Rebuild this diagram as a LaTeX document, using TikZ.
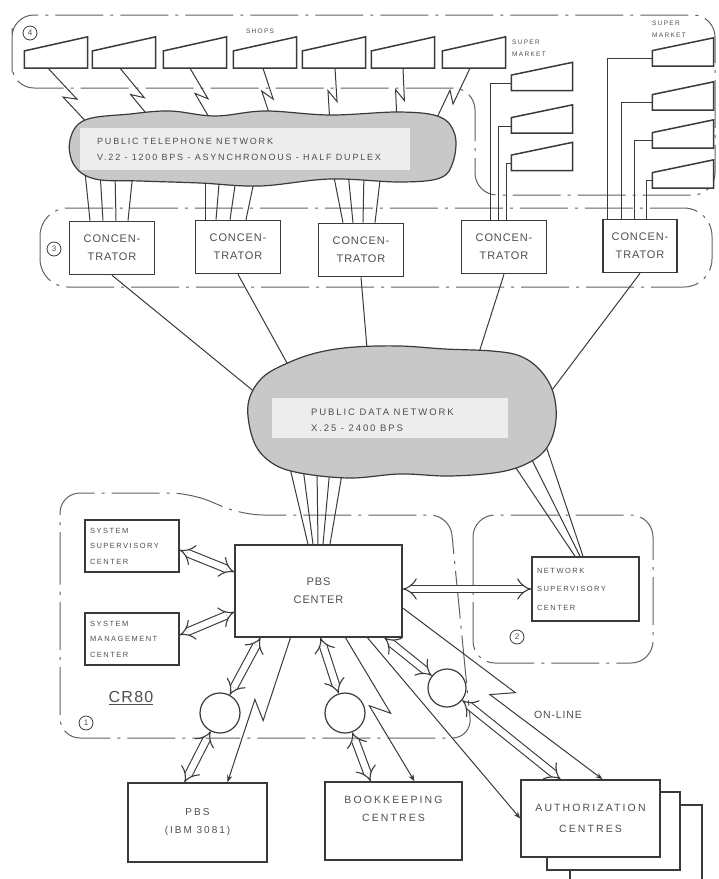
\documentclass[tikz,border=0pt]{standalone}
\usepackage{fontspec}
\setmainfont[LetterSpace=8]{Liberation Sans}
\newfontfamily\spacedsans[LetterSpace=20]{Liberation Sans}
\usetikzlibrary{positioning}
\usetikzlibrary{arrows.meta}
\usetikzlibrary{calc}

\definecolor{ink}{HTML}{3A3A3A}
\definecolor{inktext}{HTML}{4E4E4E}
\definecolor{cloudfill}{HTML}{C8C8C8}
\definecolor{cloudlabel}{HTML}{EDEDED}

\tikzset{
  wire/.style={draw=ink, line width=1pt},
  region/.style={draw=ink!80, line width=1pt, dash pattern=on 48pt off 7pt on 3pt off 7pt},
  term/.style={minimum width=63, minimum height=31, inner sep=0pt},
  mkt/.style={minimum width=61, minimum height=28, inner sep=0pt},
  conc/.style={draw=ink, line width=1.6pt, fill=white, minimum width=85, minimum height=53,
    align=center, text=inktext, font=\fontsize{11}{18}\selectfont},
  sysbox/.style={draw=ink, line width=1.5pt, fill=white, minimum width=94, minimum height=52,
    text width=84, align=left, text=inktext, font=\spacedsans\fontsize{7.5}{15.5}\selectfont},
  bigbox/.style={draw=ink, line width=1.5pt, fill=white, align=center, text=inktext},
  modem/.style={circle, draw=ink, line width=1.2pt, fill=white, minimum size=40, inner sep=0pt},
  regnum/.style={circle, draw=ink, line width=0.8pt, inner sep=0pt, minimum size=14,
    text=inktext, font=\fontsize{8}{8}\selectfont},
  tag/.style={text=inktext, inner sep=1pt, font=\spacedsans\fontsize{6.5}{12}\selectfont},
  cloudtext/.style={text=inktext, align=left, inner sep=0pt, font=\spacedsans\fontsize{9}{15.5}\selectfont},
  dbl/.style={draw=ink, line width=1.1pt, double=white, double distance=6.5pt, {Implies}-{Implies}},
  zap/.style={to path={-- ($(\tikztostart)!.5!(\tikztotarget)!#1!(\tikztotarget)!#1!90:(\tikztotarget)$)
    -- ($(\tikztostart)!.5!(\tikztotarget)!-#1!(\tikztotarget)!#1!-90:(\tikztotarget)$)
    -- (\tikztotarget) \tikztonodes}},
  zap/.default=5pt,
}

\begin{document}
\begin{tikzpicture}[x=1pt, y=-1pt]
  % canvas
  \fill[white] (0,0) rectangle (719,879);
  \useasboundingbox (0,0) rectangle (719,879);

  % Regions (dash-dot outlines)
  \draw[region, rounded corners=22pt] (12,50) -- (12,15) -- (715,15) -- (715,195) -- (475,195)
    -- (475,88) -- (12,88) -- cycle;
  \draw[region, rounded corners=28pt] (40,208) rectangle (712,287);
  \draw[region, rounded corners=20pt] (60,600) -- (60,493) -- (190,493) -- (243,515) -- (450,515)
    -- (472,738) -- (60,738) -- cycle;
  \draw[region, rounded corners=22pt] (473,515) rectangle (653,663);
  \node[regnum] (r4) at (30,33) {4};
  \node[regnum] (r3) at (54,249) {3};
  \node[regnum] (r1) at (86,723) {1};
  \node[regnum] (r2) at (517,637) {2};

  % Shops and super markets
  \foreach \x [count=\i] in {56,124,195,265,334,403,474}
    \node[term] (s\i) at (\x,52.5) {};
  \node[tag] (shops) at (260,31) {SHOPS};
  \foreach \y [count=\i] in {76.5,119,156.5}
    \node[mkt] (m\i) at (542,\y) {};
  \node[tag, align=left, anchor=west] (mkt1) at (511,48) {SUPER\\MARKET};
  \foreach \y [count=\i] in {52,96,134,174}
    \node[mkt] (n\i) at (683,\y) {};
  \node[tag, align=left, anchor=west] (mkt2) at (651,29) {SUPER\\MARKET};
  \foreach \t in {s1,s2,s3,s4,s5,s6,s7,m1,m2,m3,n1,n2,n3,n4}
    \draw[draw=ink, line width=1.5pt, fill=white] (\t.south west) -- ($(\t.south west)!0.55!(\t.north west)$)
      -- (\t.north east) -- (\t.south east) -- cycle;

  % Concentrators
  \node[conc] (c1) at (112,248) {CONCEN-\\TRATOR};
  \node[conc] (c2) at (238,247) {CONCEN-\\TRATOR};
  \node[conc] (c3) at (361,250) {CONCEN-\\TRATOR};
  \node[conc] (c4) at (504,247) {CONCEN-\\TRATOR};
  \node[conc, minimum width=74] (c5) at (640,246) {CONCEN-\\TRATOR};

  % CR80 centre
  \node[sysbox] (ssc) at (132,546) {SYSTEM\\SUPERVISORY\\CENTER};
  \node[sysbox] (smc) at (132,639) {SYSTEM\\MANAGEMENT\\CENTER};
  \node[bigbox, minimum width=167, minimum height=92, font=\fontsize{11}{18}\selectfont]
    (pbsc) at (318.5,591) {PBS\\CENTER};
  \node[sysbox, minimum width=107, minimum height=64, text width=97,
    font=\spacedsans\fontsize{7.5}{18.5}\selectfont] (nsc) at (585.5,589) {NETWORK\\SUPERVISORY\\CENTER};
  \node[font=\fontsize{16}{16}\selectfont, text=inktext] (cr) at (131,698) {\underline{CR80}};

  % Modems
  \node[modem] (ma) at (220,713) {};
  \node[modem] (mb) at (345,713) {};
  \node[modem, minimum size=38] (mc) at (447,688) {};

  % Host and centres
  \node[bigbox, minimum width=139, minimum height=79, font=\spacedsans\fontsize{10}{18}\selectfont]
    (pbs) at (197.5,822.5) {PBS\\(IBM 3081)};
  \node[bigbox, minimum width=137, minimum height=78] (bk) at (393.5,821) {};
  \node[text=inktext, align=center, font=\spacedsans\fontsize{10.5}{18}\selectfont]
    (bktxt) at (393.5,809) {BOOKKEEPING\\CENTRES};
  \draw[draw=ink, line width=1.5pt] (570,879) |- (702,805) -- (702,879);
  \filldraw[draw=ink, line width=1.5pt, fill=white] (547,792) rectangle (680,870);
  \node[bigbox, minimum width=139, minimum height=77, font=\spacedsans\fontsize{10.5}{21}\selectfont]
    (auth) at (590.5,818.5) {AUTHORIZATION\\CENTRES};

  % Shops to telephone network
  \foreach \i/\dx/\tx/\ty in {1/-8/92/128, 2/-4/155/124, 3/-5/213/124, 4/-2/272/122,
                              5/1/330/124, 6/0/397/122, 7/-4/433/126} {
    \coordinate (sp\i) at ([xshift=\dx pt]s\i.south);
    \coordinate (tp\i) at (\tx,\ty);
    \draw[wire] (sp\i) to[zap] (tp\i);
  }

  % Super markets to concentrators
  \foreach \m/\x in {m1/490, m2/498, m3/506}
    \draw[wire] (c4.north -| \x,0) |- ([yshift=7pt]\m.south west);
  \foreach \n/\x in {n1/607, n2/621, n3/634, n4/646}
    \draw[wire] (c5.north -| \x,0) |- ([yshift=8pt]\n.south west);

  % Telephone network to concentrators
  \foreach \a/\b in {85/90, 100/103, 115/116, 133/128} {
    \coordinate (ta\a) at (\a,172);
    \draw[wire] (ta\a) -- (c1.north -| \b,0);
  }
  \foreach \a/\b in {205/205, 220/216, 237/230, 256/246} {
    \coordinate (ta\a) at (\a,172);
    \draw[wire] (ta\a) -- (c2.north -| \b,0);
  }
  \foreach \a/\b in {333/343, 348/353, 364/363, 381/375} {
    \coordinate (ta\a) at (\a,172);
    \draw[wire] (ta\a) -- (c3.north -| \b,0);
  }

  % Concentrators to data network
  \foreach \c/\x/\y in {c1/262/398, c2/292/372, c3/368/360, c4/476/362, c5/546/398} {
    \coordinate (d\c) at (\x,\y);
    \draw[wire] (\c.south) -- (d\c);
  }

  % Data network to PBS center and network supervisory center
  \foreach \a/\b in {290/308, 303/313, 317/318, 330/323, 343/330} {
    \coordinate (dp\a) at (\a,468);
    \draw[wire] (dp\a) -- (pbsc.north -| \b,0);
  }
  \foreach \a/\y/\b in {512/462/575, 530/456/580, 546/446/583} {
    \coordinate (dn\a) at (\a,\y);
    \draw[wire] (dn\a) -- (nsc.north -| \b,0);
  }

  % Public telephone network
  \filldraw[fill=cloudfill, draw=ink, line width=1.2pt] plot[smooth cycle, tension=0.6] coordinates {
    (70,140) (85,120) (130,114) (170,111) (215,116) (265,111) (330,115) (400,112) (440,117)
    (455,135) (453,162) (440,178) (400,182) (330,179) (260,186) (200,183) (140,181) (95,179) (74,165)};
  \fill[cloudlabel] (80,128) rectangle (410,170);
  \node[cloudtext, anchor=west] (ptn) at (97,149.5)
    {PUBLIC TELEPHONE NETWORK\\V.22 - 1200 BPS - ASYNCHRONOUS - HALF DUPLEX};

  % Public data network
  \filldraw[fill=cloudfill, draw=ink, line width=1.2pt] plot[smooth cycle, tension=0.6] coordinates {
    (248,405) (262,378) (290,362) (320,352) (355,347) (400,346) (445,349) (492,351) (520,356)
    (540,370) (553,392) (556,420) (548,446) (530,462) (500,472) (450,476) (400,474) (350,478)
    (300,473) (272,463) (254,442)};
  \fill[cloudlabel] (272,398) rectangle (508,438);
  \node[cloudtext, anchor=west, font=\spacedsans\fontsize{9.5}{16}\selectfont] (pdn) at (311,420)
    {PUBLIC DATA NETWORK\\X.25 - 2400 BPS};

  % Double arrows
  \draw[dbl] ([yshift=-4pt]ssc.east) -- ([yshift=19pt]pbsc.west);
  \draw[dbl] ([yshift=4pt]smc.east) -- ([yshift=-21pt]pbsc.west);
  \draw[dbl] (pbsc.east |- nsc.west) -- (nsc.west);
  \draw[dbl] ([xshift=-58pt]pbsc.south) -- (ma);
  \draw[dbl] (ma) -- ([xshift=-13pt]pbs.north);
  \draw[dbl] ([xshift=2pt]pbsc.south) -- (mb);
  \draw[dbl] (mb) -- ([xshift=-23pt]bk.north);
  \draw[dbl] ([xshift=66pt]pbsc.south) -- (mc);
  \draw[dbl] (mc) -- ([xshift=-30pt]auth.north);

  % Direct lines
  \coordinate (z1a) at ([xshift=-28pt]pbsc.south);
  \coordinate (z1b) at ([xshift=30pt]pbs.north);
  \draw[wire, -{Stealth[length=7pt]}] (z1a) to[zap=8pt] (z1b);
  \coordinate (z2a) at ([xshift=27pt]pbsc.south);
  \coordinate (z2b) at ([xshift=21pt]bk.north);
  \draw[wire, -{Stealth[length=7pt]}] (z2a) to[zap=8pt] (z2b);
  \coordinate (z3a) at ([yshift=-17pt]pbsc.east);
  \coordinate (z3b) at ([xshift=12pt]auth.north);
  \draw[wire, -{Stealth[length=7pt]}] (z3a) to[zap=9pt] (z3b);
  \draw[wire, -{Stealth[length=7pt]}] ([xshift=49pt]pbsc.south) -- (auth.west);
  \node[text=inktext, font=\fontsize{10.5}{12}\selectfont] (online) at (558,715) {ON-LINE};
\end{tikzpicture}
\end{document}
